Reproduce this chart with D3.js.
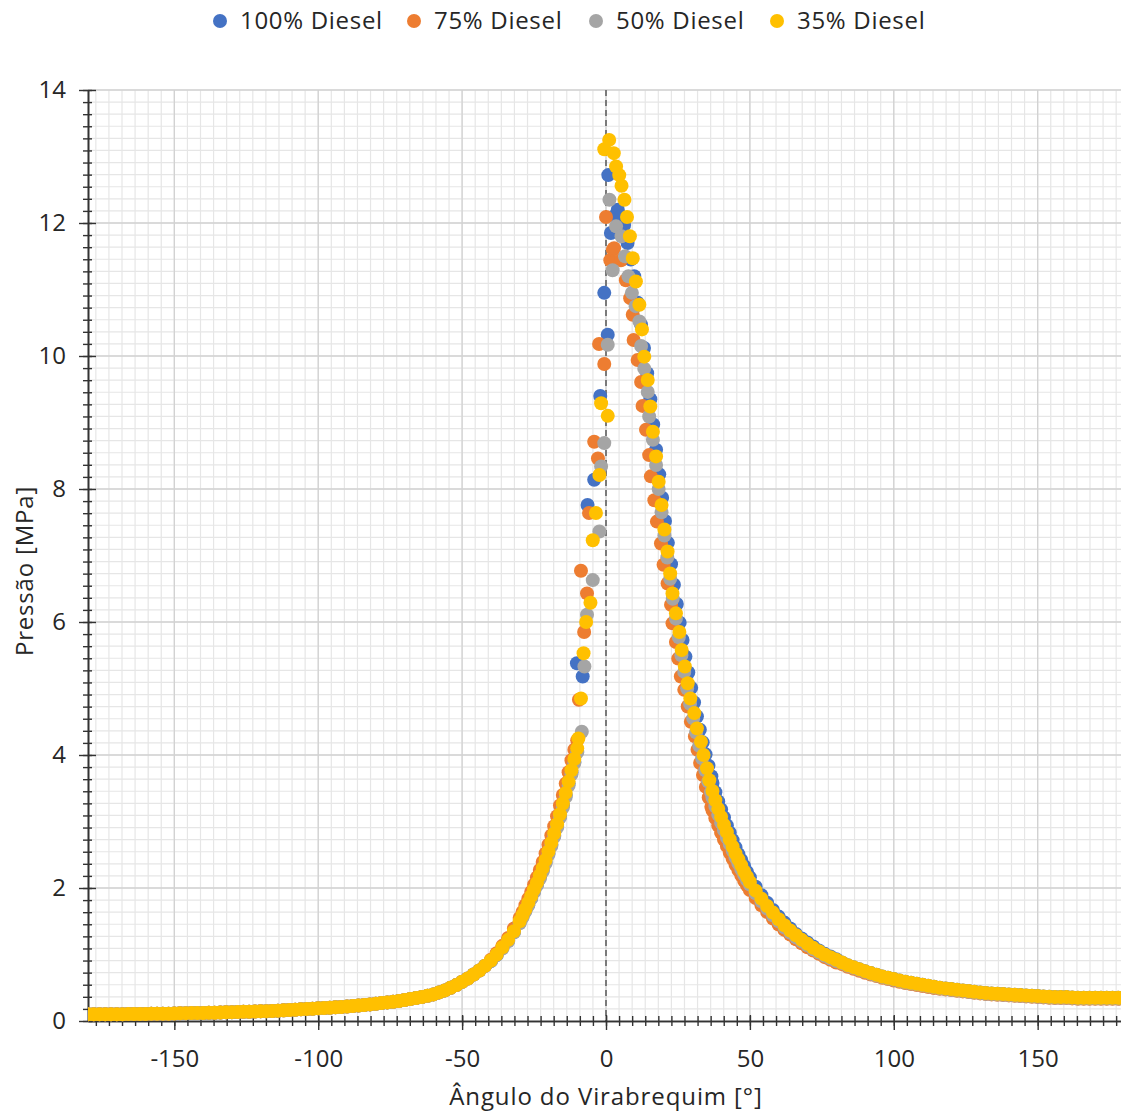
<!DOCTYPE html>
<html>
<head>
<meta charset="utf-8">
<script src="https://cdn.jsdelivr.net/npm/d3@7"></script>
<style>
  body { margin: 0; background: #fff; }
  svg { display: block; }
  text { font-family: 'Open Sans', sans-serif; fill: #262626; }
</style>
</head>
<body>
<div id="chart"></div>
<script>
var width = 1121, height = 1113;

// tick labels
var xMajor = [-150, -100, -50, 0, 50, 100, 150];
var yMajor = [0, 2, 4, 6, 8, 10, 12, 14];

// early compression: the four series coincide here
var compLowAngles = [-180,-178,-176,-174,-172,-170,-168,-166,-164,-162,
  -160,-158,-156,-154,-152,-150,-148,-146,-144,-142,
  -140,-138,-136,-134,-132,-130,-128,-126,-124,-122,
  -120,-118,-116,-114,-112,-110,-108,-106,-104,-102,
  -100,-98,-96,-94,-92,-90,-88,-86,-84,-82,
  -80,-78,-76,-74,-72,-70,-68,-66,-64,-62,
  -60,-58,-56,-54,-52,-50,-48,-46,-44,-42];
var compLow = [0.10,0.10,0.10,0.10,0.10,0.10,0.10,0.105,0.105,0.105,
  0.105,0.11,0.11,0.11,0.11,0.113,0.115,0.118,0.12,0.12,
  0.12,0.123,0.125,0.128,0.13,0.133,0.135,0.138,0.14,0.143,
  0.145,0.148,0.15,0.155,0.16,0.165,0.17,0.175,0.18,0.185,
  0.19,0.195,0.20,0.205,0.21,0.218,0.225,0.233,0.24,0.25,
  0.26,0.27,0.28,0.29,0.30,0.315,0.33,0.345,0.36,0.38,
  0.40,0.43,0.46,0.50,0.54,0.59,0.64,0.70,0.76,0.83];

// late compression
var compHighAngles = [-40,-38,-36,-34,-32,-30,-29,-28,-27,-26,-25,-24,-23,-22,-21,-20,-19,-18,-17,-16,-15,-14,-13,-12,-11,-10];
var compHigh100 = [0.90,0.99,1.10,1.21,1.34,1.48,1.57,1.66,1.75,1.85,1.95,2.05,2.16,2.27,2.39,2.52,2.65,2.79,2.93,3.08,3.24,3.40,3.57,3.74,3.90,4.06];
var compHigh75 = [0.92,1.02,1.13,1.25,1.39,1.55,1.64,1.74,1.84,1.94,2.05,2.16,2.27,2.39,2.52,2.65,2.79,2.93,3.08,3.24,3.40,3.57,3.74,3.92,4.08,4.22];
var compHigh50 = [0.90,0.99,1.09,1.20,1.33,1.47,1.56,1.65,1.74,1.84,1.94,2.04,2.14,2.25,2.37,2.50,2.63,2.77,2.91,3.06,3.21,3.37,3.54,3.71,3.88,4.04];
var compHigh35 = [0.91,1.00,1.11,1.22,1.35,1.50,1.59,1.68,1.78,1.88,1.98,2.08,2.19,2.30,2.42,2.55,2.68,2.82,2.96,3.11,3.27,3.43,3.60,3.77,3.94,4.10];

// combustion region, read point by point
var peakAng100 = [-10.1,-8.1,-6.4,-4.1,-2.0,-0.6,0.6,0.8,1.7,2.8,4.1,5.2,6.3,7.5,8.6,9.8,11.0,12.2,13.2,14.3,15.4,16.4,17.4,18.5,19.5,20.5,21.5,22.6,23.6,24.6,25.6,26.6,27.6,28.6,29.6,30.6,31.6,32.6,33.6,34.6,35.6,36.6];
var peak100 = [5.38,5.18,7.76,8.14,9.40,10.95,10.32,12.72,11.85,12.10,12.20,12.10,11.97,11.70,11.45,11.20,10.80,10.47,10.12,9.74,9.35,8.97,8.59,8.22,7.87,7.52,7.19,6.87,6.56,6.27,5.99,5.73,5.48,5.24,5.01,4.79,4.58,4.38,4.19,4.01,3.84,3.68];

var peakAng75 = [-9.4,-8.7,-7.6,-6.6,-5.9,-4.1,-2.8,-2.4,-0.6,0.0,1.5,2.4,2.8,5.2,6.9,8.4,9.3,9.6,11.0,12.2,12.7,13.9,15.0,15.6,16.8,17.7,19.1,20.0,21.4,22.6,23.1,24.3,25.1,26.0,27.2,28.4,29.5,30.9,31.8,32.7,33.7,34.7,35.7,36.6];
var peak75 = [4.83,6.77,5.85,6.43,7.64,8.71,8.46,10.18,9.88,12.09,11.44,11.60,11.62,11.44,11.14,10.87,10.62,10.24,9.94,9.61,9.25,8.89,8.51,8.19,7.83,7.51,7.18,6.86,6.58,6.26,5.98,5.70,5.45,5.18,4.98,4.73,4.50,4.28,4.08,3.88,3.70,3.52,3.36,3.22];

var peakAng50 = [-8.4,-7.5,-6.6,-4.6,-2.3,-1.7,-0.6,0.6,1.2,2.3,3.5,5.4,6.6,7.8,9.0,10.3,11.6,12.2,13.3,14.5,15.0,16.3,17.4,18.3,19.3,20.3,21.3,22.3,23.2,24.3,25.3,26.2,27.2,28.2,29.2,30.3,31.3,32.4,33.4,34.5,35.5,36.5];
var peak50 = [4.35,5.33,6.11,6.63,7.36,8.34,8.69,10.17,12.35,11.29,11.95,11.80,11.50,11.20,10.95,10.75,10.52,10.15,9.81,9.46,9.09,8.74,8.36,8.00,7.65,7.30,6.97,6.65,6.35,6.05,5.77,5.50,5.25,5.00,4.77,4.55,4.34,4.14,3.95,3.77,3.60,3.44];

var peakAng35 = [-9.6,-8.7,-7.8,-6.9,-5.4,-4.6,-3.5,-2.3,-1.7,0.6,-0.6,1.1,2.7,3.5,4.6,5.4,6.4,7.3,8.3,9.3,10.4,11.6,12.5,13.3,14.5,15.4,16.3,17.4,18.3,19.3,20.3,21.4,22.3,23.1,24.3,25.5,26.3,27.4,28.4,29.3,30.7,31.6,33,33.9,35.1,35.9];
var peak35 = [4.25,4.85,5.53,6.00,6.29,7.23,7.64,8.21,9.29,9.10,13.11,13.25,13.05,12.85,12.72,12.56,12.35,12.09,11.80,11.47,11.12,10.77,10.40,9.99,9.64,9.24,8.86,8.49,8.11,7.76,7.39,7.06,6.73,6.43,6.13,5.85,5.58,5.33,5.08,4.85,4.63,4.40,4.20,4.00,3.80,3.62];

// early expansion
var expAngles = [37,38,39,40,41,42,43,44,45,46,47,48,49,50,
  52,54,56,58,60,62,64,66,68,70,72,74,76,78,80];
var exp100 = [3.58,3.44,3.30,3.18,3.06,2.94,2.83,2.72,2.61,2.51,2.42,2.33,2.24,2.16,
  2.02,1.89,1.78,1.67,1.57,1.48,1.39,1.31,1.24,1.18,1.12,1.06,1.01,0.97,0.93];
var exp75 = [3.17,3.05,2.94,2.83,2.73,2.63,2.53,2.44,2.35,2.27,2.19,2.11,2.04,1.97,
  1.85,1.74,1.64,1.54,1.45,1.37,1.30,1.23,1.17,1.11,1.06,1.01,0.96,0.92,0.88];
var exp50 = [3.36,3.23,3.10,2.98,2.87,2.76,2.66,2.56,2.46,2.37,2.28,2.20,2.12,2.05,
  1.92,1.80,1.69,1.59,1.50,1.41,1.33,1.26,1.20,1.14,1.08,1.03,0.98,0.94,0.90];
var exp35 = [3.46,3.32,3.19,3.07,2.95,2.84,2.73,2.62,2.52,2.43,2.34,2.25,2.17,2.09,
  1.96,1.84,1.73,1.63,1.53,1.44,1.36,1.29,1.22,1.16,1.10,1.05,1.00,0.96,0.92];

// late expansion / exhaust
var tailAngles = [82,84,86,88,90,92,94,96,98,100,
  102,104,106,108,110,112,114,116,118,120,
  122,124,126,128,130,132,134,136,138,140,
  142,144,146,148,150,152,154,156,158,160,
  162,164,166,168,170,172,174,176,178,180];
var tail100 = [0.88,0.84,0.81,0.78,0.75,0.72,0.695,0.67,0.65,0.63,
  0.61,0.59,0.575,0.56,0.545,0.53,0.515,0.50,0.49,0.48,
  0.47,0.46,0.45,0.44,0.43,0.42,0.415,0.41,0.405,0.40,
  0.395,0.39,0.385,0.38,0.375,0.37,0.365,0.36,0.36,0.36,
  0.355,0.35,0.35,0.35,0.35,0.35,0.35,0.35,0.35,0.35];
var tail75 = [0.855,0.815,0.785,0.755,0.725,0.70,0.675,0.65,0.63,0.61,
  0.59,0.57,0.555,0.54,0.525,0.51,0.495,0.485,0.475,0.465,
  0.455,0.445,0.435,0.425,0.415,0.405,0.40,0.395,0.39,0.385,
  0.38,0.375,0.37,0.365,0.36,0.355,0.35,0.345,0.345,0.345,
  0.34,0.335,0.335,0.335,0.335,0.335,0.335,0.335,0.335,0.335];
var tail50 = [0.87,0.83,0.80,0.77,0.74,0.71,0.685,0.66,0.64,0.62,
  0.60,0.58,0.565,0.55,0.535,0.52,0.505,0.49,0.48,0.47,
  0.46,0.45,0.44,0.43,0.42,0.41,0.405,0.40,0.395,0.39,
  0.385,0.38,0.375,0.37,0.365,0.36,0.355,0.35,0.35,0.35,
  0.345,0.34,0.34,0.34,0.34,0.34,0.34,0.34,0.34,0.34];
var tail35 = [0.88,0.84,0.81,0.78,0.75,0.72,0.695,0.67,0.65,0.63,
  0.61,0.59,0.575,0.56,0.545,0.53,0.515,0.50,0.49,0.48,
  0.47,0.46,0.45,0.44,0.43,0.42,0.415,0.41,0.405,0.40,
  0.395,0.39,0.385,0.38,0.375,0.37,0.365,0.36,0.36,0.36,
  0.355,0.35,0.35,0.35,0.35,0.35,0.35,0.35,0.35,0.35];

var seriesNames = ['100% Diesel', '75% Diesel', '50% Diesel', '35% Diesel'];
var seriesColors = ['#4472C4', '#ED7D31', '#A5A5A5', '#FFC000'];

var series = [
  { hi: compHigh100, pa: peakAng100, pk: peak100, ex: exp100, tl: tail100 },
  { hi: compHigh75, pa: peakAng75, pk: peak75, ex: exp75, tl: tail75 },
  { hi: compHigh50, pa: peakAng50, pk: peak50, ex: exp50, tl: tail50 },
  { hi: compHigh35, pa: peakAng35, pk: peak35, ex: exp35, tl: tail35 }
].map(function (s, i) {
  var pts = d3.zip(compLowAngles, compLow)
    .concat(d3.zip(compHighAngles, s.hi))
    .concat(d3.zip(s.pa, s.pk))
    .concat(d3.zip(expAngles, s.ex))
    .concat(d3.zip(tailAngles, s.tl));
  return { name: seriesNames[i], color: seriesColors[i], points: pts };
});

// scales
var x = d3.scaleLinear().domain([-180, 180]).range([88, 1124]);
var y = d3.scaleLinear().domain([0, 14]).range([1021, 90]);

var svg = d3.select('#chart').append('svg')
  .attr('width', width)
  .attr('height', height);

svg.append('rect').attr('width', width).attr('height', height).attr('fill', '#fff');

// minor grid: 11 divisions per major step
var xMinor = d3.range(-150 - 7 * 50 / 11, 181, 50 / 11).filter(function (v) { return v > -179.9; });
var yMinor = d3.range(0, 14.001, 2 / 11);

var grid = svg.append('g');
grid.selectAll('.vmin').data(xMinor).enter().append('line')
  .attr('x1', function (d) { return x(d); }).attr('x2', function (d) { return x(d); })
  .attr('y1', y(14)).attr('y2', y(0))
  .attr('stroke', '#e6e6e6').attr('stroke-width', 1.2);
grid.selectAll('.hmin').data(yMinor).enter().append('line')
  .attr('x1', x(-180)).attr('x2', width)
  .attr('y1', function (d) { return y(d); }).attr('y2', function (d) { return y(d); })
  .attr('stroke', '#e6e6e6').attr('stroke-width', 1.2);
grid.selectAll('.vmaj').data(xMajor).enter().append('line')
  .attr('x1', function (d) { return x(d); }).attr('x2', function (d) { return x(d); })
  .attr('y1', y(14)).attr('y2', y(0))
  .attr('stroke', '#d2d2d2').attr('stroke-width', 1.3);
grid.selectAll('.hmaj').data(yMajor.slice(1)).enter().append('line')
  .attr('x1', x(-180)).attr('x2', width)
  .attr('y1', function (d) { return y(d); }).attr('y2', function (d) { return y(d); })
  .attr('stroke', '#d2d2d2').attr('stroke-width', 1.3);

// dashed TDC line
svg.append('line')
  .attr('x1', x(0)).attr('x2', x(0))
  .attr('y1', y(14)).attr('y2', y(0))
  .attr('stroke', '#595959').attr('stroke-width', 1.5)
  .attr('stroke-dasharray', '6,4');

// axes
var axisColor = '#333';
var plain = function (d) { return String(d); };

var xMinorAxis = svg.append('g').attr('transform', 'translate(0,' + y(0) + ')')
  .call(d3.axisBottom(x).tickValues(xMinor).tickSize(5).tickSizeOuter(0).tickFormat(''));
xMinorAxis.selectAll('.tick line').attr('y1', -5).attr('y2', 5);

var yMinorAxis = svg.append('g').attr('transform', 'translate(' + x(-180) + ',0)')
  .call(d3.axisLeft(y).tickValues(yMinor).tickSize(5).tickSizeOuter(0).tickFormat(''));
yMinorAxis.selectAll('.tick line').attr('x1', 4).attr('x2', -5);

var xAxis = svg.append('g').attr('transform', 'translate(0,' + y(0) + ')')
  .call(d3.axisBottom(x).tickValues(xMajor).tickSize(9).tickSizeOuter(0).tickPadding(20).tickFormat(plain));
xAxis.selectAll('.tick line').attr('y1', -6).attr('y2', 9);

var yAxis = svg.append('g').attr('transform', 'translate(' + x(-180) + ',0)')
  .call(d3.axisLeft(y).tickValues(yMajor).tickSize(9).tickSizeOuter(0).tickPadding(13).tickFormat(plain));
yAxis.selectAll('.tick line').attr('x1', 8).attr('x2', -9);

svg.selectAll('.domain').attr('stroke', axisColor).attr('stroke-width', 1.6);
svg.selectAll('.tick line').attr('stroke', axisColor).attr('stroke-width', 1.4);
svg.selectAll('.tick text')
  .style('font-family', "'Open Sans', sans-serif")
  .style('font-size', '24px')
  .attr('fill', '#262626');

// points
svg.append('clipPath').attr('id', 'plotclip')
  .append('rect').attr('x', x(-180)).attr('y', 0).attr('width', width).attr('height', y(0) + 2);

var plot = svg.append('g').attr('clip-path', 'url(#plotclip)');
series.forEach(function (s) {
  plot.append('g').selectAll('circle').data(s.points).enter().append('circle')
    .attr('cx', function (d) { return x(d[0]); })
    .attr('cy', function (d) { return y(d[1]); })
    .attr('r', 7)
    .attr('fill', s.color);
});

// axis titles
svg.append('text')
  .attr('x', x(0)).attr('y', 1105)
  .attr('text-anchor', 'middle')
  .style('font-size', '24px')
  .style('letter-spacing', '0.9px')
  .text('Ângulo do Virabrequim [°]');

svg.append('text')
  .attr('transform', 'translate(33,571) rotate(-90)')
  .attr('text-anchor', 'middle')
  .style('font-size', '24px')
  .style('letter-spacing', '0.8px')
  .text('Pressão [MPa]');

// legend
var legendX = [220, 414, 596, 777];
var legend = svg.append('g').selectAll('g').data(series).enter().append('g')
  .attr('transform', function (d, i) { return 'translate(' + legendX[i] + ',21)'; });
legend.append('circle').attr('r', 7).attr('fill', function (d) { return d.color; });
legend.append('text').attr('x', 20).attr('y', 8)
  .style('font-size', '24px')
  .style('letter-spacing', '0.7px')
  .text(function (d) { return d.name; });
</script>
</body>
</html>
